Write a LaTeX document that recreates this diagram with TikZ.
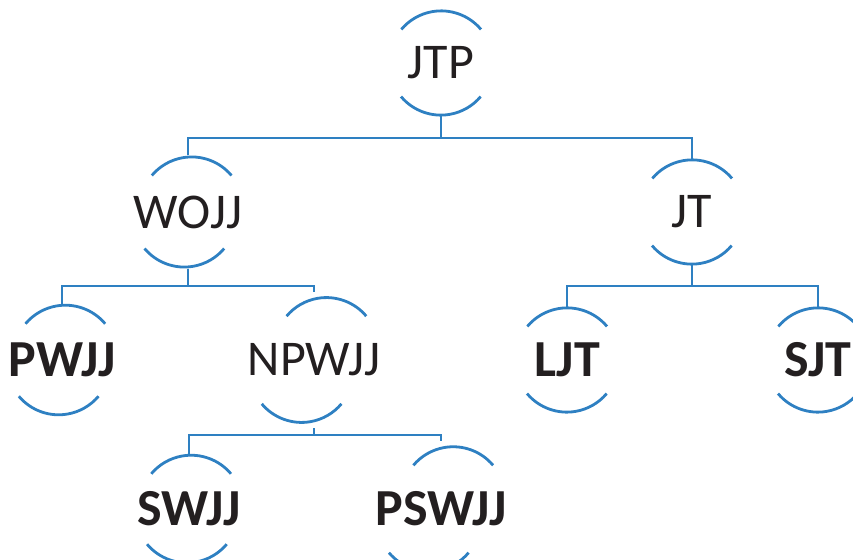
\documentclass[tikz,border=0pt]{standalone}
\usepackage{fontspec}
\setmainfont{Carlito}
\definecolor{lineblue}{RGB}{46,128,194}
\definecolor{txt}{RGB}{35,31,32}
\tikzset{
  tnode/.style={circle, minimum size=104pt, inner sep=0pt, text=txt,
    font=\fontsize{50}{52}\selectfont},
  bnode/.style={tnode, font=\fontsize{52}{54}\selectfont\bfseries},
  link/.style={draw=lineblue, line width=2.8pt},
}
\newcommand{\arcs}[1]{%
  \draw[link] (#1.40) arc[start angle=40, end angle=140, radius=52pt];
  \draw[link] (#1.220) arc[start angle=220, end angle=320, radius=52pt];
}
\begin{document}
\begin{tikzpicture}[x=1pt,y=-1pt]
\useasboundingbox (0,0) rectangle (853,559);
\clip (0,0) rectangle (853,559);
\node[tnode] (jtp) at (441,63) {JTP};
\node[tnode] (wojj) at (188,212) {WOJJ};
\node[tnode] (jt) at (692,212) {JT};
\node[bnode] (pwjj) at (62,360) {PWJJ};
\node[tnode] (npwjj) at (314,360) {NPWJJ};
\node[bnode] (ljt) at (567,360) {LJT};
\node[bnode] (sjt) at (818,360) {SJT};
\node[bnode] (swjj) at (189,509) {SWJJ};
\node[bnode] (pswjj) at (441,509) {PSWJJ};
\foreach \n in {jtp,wojj,jt,pwjj,npwjj,ljt,sjt,swjj,pswjj}{\arcs{\n}}
\coordinate (b1) at (441,138);
\coordinate (b2) at (188,286);
\coordinate (b3) at (692,286);
\coordinate (b4) at (314,435);
\draw[link] (jtp.south) -- (b1);
\draw[link] (wojj.north) |- (b1) -| (jt.north);
\draw[link] (wojj.south) -- (b2);
\draw[link] (pwjj.north) |- (b2) -| (npwjj.north);
\draw[link] (jt.south) -- (b3);
\draw[link] (ljt.north) |- (b3) -| (sjt.north);
\draw[link] (npwjj.south) -- (b4);
\draw[link] (swjj.north) |- (b4) -| (pswjj.north);
\end{tikzpicture}
\end{document}
